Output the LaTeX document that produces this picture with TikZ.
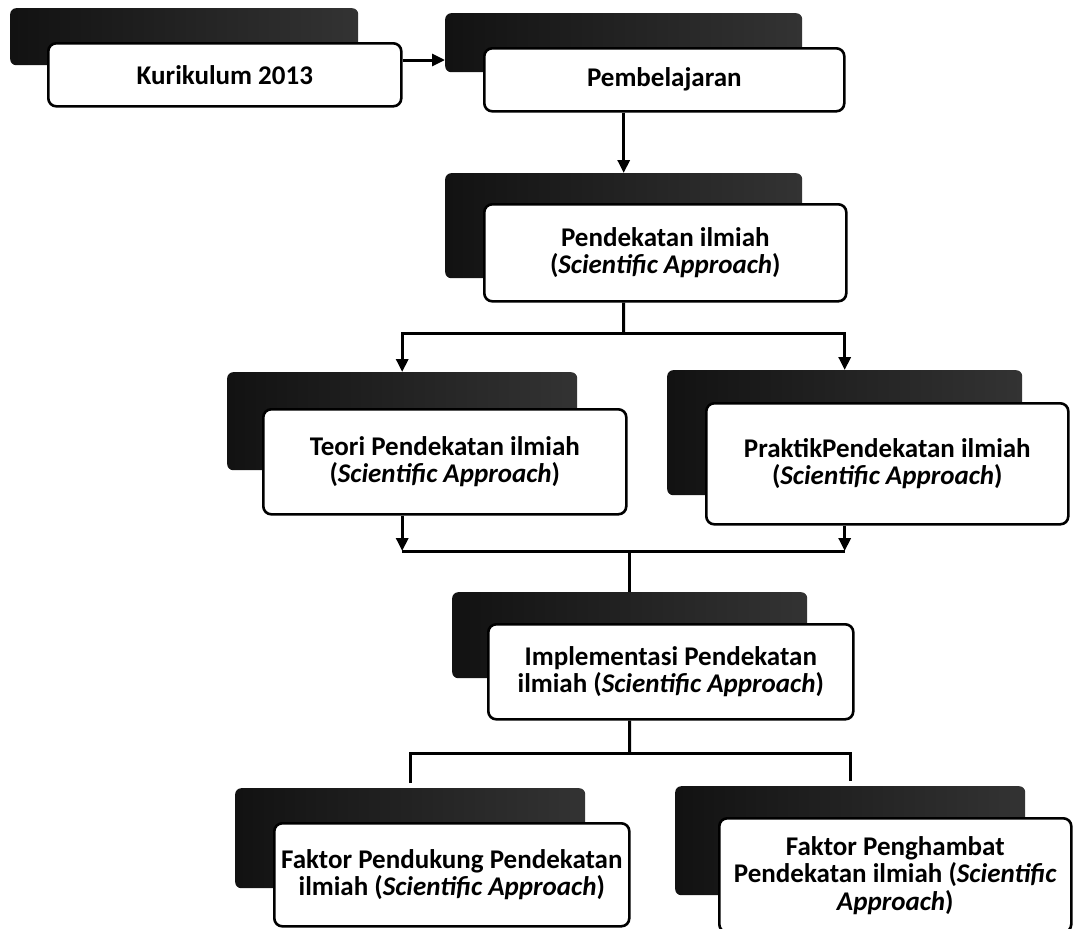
\documentclass[tikz,border=0pt]{standalone}
\usepackage{fontspec}
\setmainfont{Carlito}
\usetikzlibrary{arrows.meta,calc}
\begin{document}
\begin{tikzpicture}[x=1pt,y=-1pt,
  dbox/.style={left color=black!93,right color=black!80,draw=none,rounded corners=6pt,inner sep=0pt,anchor=north west},
  wbox/.style={draw=black,line width=2.6pt,fill=white,rounded corners=8pt,align=center,inner sep=0pt,anchor=north west,
    font=\fontsize{27}{27.5}\selectfont\bfseries},
  conn/.style={line width=3pt},
  arr/.style={conn,-{Triangle[length=13pt,width=12pt]}}]
\useasboundingbox (0,0) rectangle (1079,929);
\clip (0,0) rectangle (1079,929);
% Kurikulum 2013
\node[dbox,minimum width=348pt,minimum height=57pt] (kurd) at (10,8) {};
\node[wbox,minimum width=353pt,minimum height=63pt] (kur) at (47,42) {Kurikulum 2013};
% Pembelajaran
\node[dbox,minimum width=357pt,minimum height=59pt] (pembd) at (445,13) {};
\node[wbox,minimum width=360pt,minimum height=63pt] (pemb) at (483,47) {Pembelajaran};
% Pendekatan ilmiah
\node[dbox,minimum width=357pt,minimum height=105pt] (pendd) at (445,173) {};
\node[wbox,minimum width=362pt,minimum height=97pt] (pend) at (483,203) {Pendekatan ilmiah\\(\textit{Scientific Approach})};
% Teori
\node[dbox,minimum width=350pt,minimum height=98pt] (teorid) at (227,372) {};
\node[wbox,minimum width=363pt,minimum height=105pt] (teori) at (262,408) {Teori Pendekatan ilmiah\\(\textit{Scientific Approach})};
% Praktik
\node[dbox,minimum width=355pt,minimum height=125pt] (praktikd) at (667,370) {};
\node[wbox,minimum width=362pt,minimum height=121pt] (praktik) at (705,402) {PraktikPendekatan ilmiah\\(\textit{Scientific Approach})};
% Implementasi
\node[dbox,minimum width=355pt,minimum height=86pt] (impld) at (452,592) {};
\node[wbox,minimum width=365pt,minimum height=95pt] (impl) at (487,623) {Implementasi Pendekatan\\ilmiah (\textit{Scientific Approach})};
% Faktor Pendukung
\node[dbox,minimum width=350pt,minimum height=100pt] (fpendd) at (235,788) {};
\node[wbox,minimum width=355pt,minimum height=103pt] (fpend) at (273,822) {Faktor Pendukung Pendekatan\\ilmiah (\textit{Scientific Approach})};
% Faktor Penghambat
\node[dbox,minimum width=350pt,minimum height=109pt] (fpenghd) at (675,786) {};
\node[wbox,minimum width=352pt,minimum height=114pt] (fpengh) at (718,817) {Faktor Penghambat\\Pendekatan ilmiah (\textit{Scientific}\\\textit{Approach})};
% connectors
\draw[arr] ($(kur.north east)+(0,18)$) -- ($(pembd.north west)+(0,47)$);
\draw[arr] (pembd.south |- pemb.south) -- (pendd.north);
\coordinate (s1) at (623.5,333);
\draw[conn] (pendd.south |- pend.south) -- (s1);
\draw[arr] (s1) -| (teorid.north);
\draw[arr] (s1) -| (praktikd.north);
\coordinate (m1) at (629.5,551);
\draw[arr] (teorid.south |- teori.south) -- (teorid.south |- m1);
\draw[arr] (praktikd.south |- praktik.south) -- (praktikd.south |- m1);
\draw[conn] (teorid.south |- m1) -- (praktikd.south |- m1);
\draw[conn] (m1) -- (m1 |- impld.north);
\coordinate (s2) at (629.5,753);
\draw[conn] (impld.south |- impl.south) -- (s2);
\draw[conn] ($(fpendd.north)+(0,-5)$) |- (s2) -| ($(fpenghd.north)+(0,-5)$);
\end{tikzpicture}
\end{document}
